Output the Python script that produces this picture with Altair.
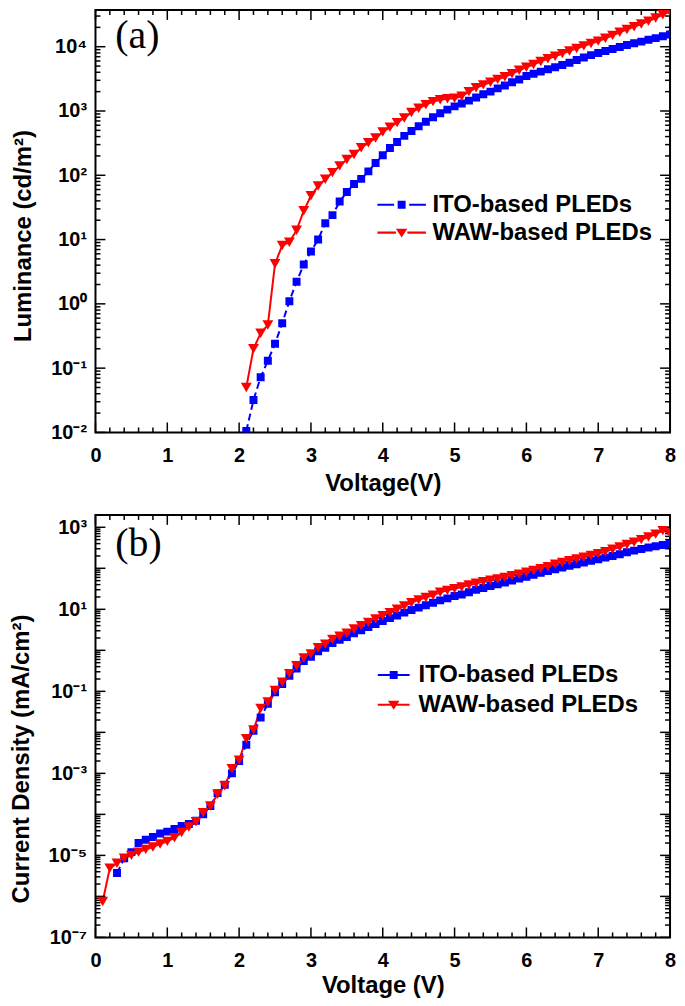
import json
import altair as alt
import pandas as pd

SERIES = ["ITO-based PLEDs", "WAW-based PLEDs"]
COLORS = ["#0000ff", "#ff0000"]
FONT = "Liberation Sans"
SERIF = "Liberation Serif"

# ---------------- (a) Luminance vs voltage ----------------
lum_voltage = [2.1, 2.2, 2.3, 2.4, 2.5, 2.6, 2.7, 2.8, 2.9, 3.0,
               3.1, 3.2, 3.3, 3.4, 3.5, 3.6, 3.7, 3.8, 3.9, 4.0,
               4.1, 4.2, 4.3, 4.4, 4.5, 4.6, 4.7, 4.8, 4.9, 5.0,
               5.1, 5.2, 5.3, 5.4, 5.5, 5.6, 5.7, 5.8, 5.9, 6.0,
               6.1, 6.2, 6.3, 6.4, 6.5, 6.6, 6.7, 6.8, 6.9, 7.0,
               7.1, 7.2, 7.3, 7.4, 7.5, 7.6, 7.7, 7.8, 7.9, 8.0]
lum_ito = [0.0105, 0.032, 0.072, 0.13, 0.24, 0.50, 1.1, 2.2, 4.1, 6.5,
           10, 18, 24, 39, 55, 73, 88, 115, 155, 205,
           265, 330, 410, 490, 580, 680, 800, 920, 1050, 1180,
           1310, 1450, 1620, 1820, 2000, 2250, 2500, 2800, 3100, 3500,
           3800, 4100, 4450, 4800, 5200, 5650, 6200, 6800, 7400, 8000,
           8600, 9200, 9900, 10600, 11300, 12000, 12800, 13600, 14500, 15500]
lum_waw = [0.05, 0.20, 0.35, 0.47, 4.2, 8.1, 9.1, 14, 28, 48,
           68, 87, 110, 140, 176, 210, 268, 320, 380, 470,
           560, 660, 780, 950, 1100, 1250, 1400, 1500, 1550, 1580,
           1700, 2000, 2300, 2550, 2800, 3100, 3400, 3800, 4300, 4800,
           5300, 5900, 6500, 7100, 7800, 8600, 9400, 10300, 11200, 12200,
           13500, 15000, 16800, 18500, 20500, 22500, 25000, 28000, 31500, 35000]

# ---------------- (b) Current density vs voltage ----------------
cd_voltage_waw = [0.1, 0.2, 0.3, 0.4, 0.5, 0.6, 0.7, 0.8, 0.9, 1.0,
                  1.1, 1.2, 1.3, 1.4, 1.5, 1.6, 1.7, 1.8, 1.9, 2.0,
                  2.1, 2.2, 2.3, 2.4, 2.5, 2.6, 2.7, 2.8, 2.9, 3.0,
                  3.1, 3.2, 3.3, 3.4, 3.5, 3.6, 3.7, 3.8, 3.9, 4.0,
                  4.1, 4.2, 4.3, 4.4, 4.5, 4.6, 4.7, 4.8, 4.9, 5.0,
                  5.1, 5.2, 5.3, 5.4, 5.5, 5.6, 5.7, 5.8, 5.9, 6.0,
                  6.1, 6.2, 6.3, 6.4, 6.5, 6.6, 6.7, 6.8, 6.9, 7.0,
                  7.1, 7.2, 7.3, 7.4, 7.5, 7.6, 7.7, 7.8, 7.9, 8.0]
cd_waw = [7.5e-7, 4.9e-6, 6.4e-6, 8.5e-6, 1.0e-5, 1.2e-5, 1.4e-5, 1.6e-5, 1.9e-5, 2.2e-5,
          2.7e-5, 3.6e-5, 4.9e-5, 6.6e-5, 1.1e-4, 1.6e-4, 3.1e-4, 5.0e-4, 1.3e-3, 2.1e-3,
          7.0e-3, 1.15e-2, 3.8e-2, 5.5e-2, 0.105, 0.166, 0.27, 0.42, 0.65, 0.82,
          1.15, 1.4, 1.85, 2.2, 2.6, 3.3, 4.0, 4.8, 5.8, 7.0,
          8.3, 10, 12, 14.5, 17, 19.5, 22, 26, 29, 32,
          35, 39, 43, 47, 51, 55, 60, 66, 72, 80,
          88, 98, 110, 125, 138, 152, 168, 185, 205, 228,
          255, 290, 330, 380, 430, 500, 580, 680, 830, 720]
cd_voltage_ito = [0.3, 0.4, 0.5, 0.6, 0.7, 0.8, 0.9, 1.0,
                  1.1, 1.2, 1.3, 1.4, 1.5, 1.6, 1.7, 1.8, 1.9, 2.0,
                  2.1, 2.2, 2.3, 2.4, 2.5, 2.6, 2.7, 2.8, 2.9, 3.0,
                  3.1, 3.2, 3.3, 3.4, 3.5, 3.6, 3.7, 3.8, 3.9, 4.0,
                  4.1, 4.2, 4.3, 4.4, 4.5, 4.6, 4.7, 4.8, 4.9, 5.0,
                  5.1, 5.2, 5.3, 5.4, 5.5, 5.6, 5.7, 5.8, 5.9, 6.0,
                  6.1, 6.2, 6.3, 6.4, 6.5, 6.6, 6.7, 6.8, 6.9, 7.0,
                  7.1, 7.2, 7.3, 7.4, 7.5, 7.6, 7.7, 7.8, 7.9, 8.0]
cd_ito = [3.7e-6, 8.5e-6, 1.2e-5, 2.0e-5, 2.4e-5, 2.8e-5, 3.4e-5, 3.8e-5,
          4.4e-5, 5.2e-5, 5.8e-5, 7.0e-5, 1.0e-4, 1.6e-4, 3.3e-4, 5.3e-4, 1.0e-3, 2.0e-3,
          5.0e-3, 1.1e-2, 2.3e-2, 5.0e-2, 9.5e-2, 0.15, 0.24, 0.36, 0.55, 0.70,
          0.95, 1.15, 1.5, 1.8, 2.1, 2.6, 3.1, 3.7, 4.4, 5.2,
          6.1, 7.1, 8.3, 9.6, 11, 12.5, 14.5, 16.5, 18.5, 21,
          23, 26, 30, 33, 37, 41, 45, 50, 56, 62,
          70, 78, 86, 95, 105, 115, 126, 138, 152, 166,
          182, 200, 220, 245, 270, 295, 320, 345, 370, 390]

# ---------------- tick values / labels ----------------
x_major = [0, 1, 2, 3, 4, 5, 6, 7, 8]
x_minor = [0.2, 0.4, 0.6, 0.8, 1.2, 1.4, 1.6, 1.8, 2.2, 2.4, 2.6, 2.8,
           3.2, 3.4, 3.6, 3.8, 4.2, 4.4, 4.6, 4.8, 5.2, 5.4, 5.6, 5.8,
           6.2, 6.4, 6.6, 6.8, 7.2, 7.4, 7.6, 7.8]
lum_tick_values = [1e-2, 1e-1, 1e0, 1e1, 1e2, 1e3, 1e4]
lum_tick_labels = ["10⁻²", "10⁻¹", "10⁰", "10¹", "10²", "10³", "10⁴"]
cd_tick_values = [1e-7, 1e-5, 1e-3, 1e-1, 1e1, 1e3]
cd_tick_labels = ["10⁻⁷", "10⁻⁵", "10⁻³", "10⁻¹", "10¹", "10³"]


def decades(e0, e1):
    return [float(10.0 ** e) for e in range(e0, e1 + 1)]


def minor_decades(e0, e1, vmax):
    out = []
    for e in range(e0, e1 + 1):
        for k in range(2, 10):
            v = float(k * 10.0 ** e)
            if v <= vmax:
                out.append(v)
    return out


def long_df(vs, ys, name):
    return pd.DataFrame({"V": vs, "val": ys, "series": name})


df_a = pd.concat([long_df(lum_voltage, lum_ito, SERIES[0]),
                  long_df(lum_voltage, lum_waw, SERIES[1])], ignore_index=True)
df_b = pd.concat([long_df(cd_voltage_ito, cd_ito, SERIES[0]),
                  long_df(cd_voltage_waw, cd_waw, SERIES[1])], ignore_index=True)


def label_expr(values, labels):
    return (json.dumps(labels, ensure_ascii=False)
            + "[indexof(" + json.dumps(values) + ", datum.value)]")


MAJOR_LEN, MINOR_LEN, TICK_W = 10, 5, 1.5


def x_ticks(xs, values, width, height, length):
    src = alt.Chart(pd.DataFrame({"t": values})).mark_rule(color="black", strokeWidth=TICK_W)
    xenc = alt.X("t:Q", scale=xs)
    bottom = src.encode(x=xenc, y=alt.value(height), y2=alt.value(height - length))
    top = src.encode(x=xenc, y=alt.value(0), y2=alt.value(length))
    return [bottom, top]


def y_ticks(ys, values, width, height, length):
    src = alt.Chart(pd.DataFrame({"t": values})).mark_rule(color="black", strokeWidth=TICK_W)
    yenc = alt.Y("t:Q", scale=ys)
    left = src.encode(y=yenc, x=alt.value(0), x2=alt.value(length))
    right = src.encode(y=yenc, x=alt.value(width), x2=alt.value(width - length))
    return [left, right]


def make_panel(df, width, height, ydom, y_major, y_minor, y_lab_vals, y_labs,
               y_title, y_title_y, x_title, x_title_pad, dash_range, sizes, legend_paths,
               legend_x, legend_y, sym_offset, lab_offset, row_pad, tag, tag_offset):
    xs = alt.Scale(domain=[0, 8], nice=False, zero=False)
    ys = alt.Scale(type="log", domain=ydom, nice=False)
    color_sc = alt.Scale(domain=SERIES, range=COLORS)
    base = alt.Chart(df)

    lab_x = alt.Axis(orient="bottom", values=x_major, ticks=False, domain=False,
                     grid=False, format="d", labelFont=FONT, labelFontSize=20,
                     labelFontWeight="bold", labelColor="black", labelPadding=13,
                     labelFlush=False, title=x_title, titleFont=FONT,
                     titleFontSize=24, titleFontWeight="bold", titleColor="black",
                     titlePadding=x_title_pad)
    lab_y = alt.Axis(orient="left", values=y_lab_vals, ticks=False, domain=False,
                     grid=False, labelExpr=label_expr(y_lab_vals, y_labs),
                     labelFont=FONT, labelFontSize=20, labelFontWeight="bold",
                     labelColor="black", labelPadding=9, labelFlush=False,
                     title=y_title, titleFont=FONT, titleFontSize=24,
                     titleFontWeight="bold", titleColor="black", titlePadding=15,
                     titleY=y_title_y)

    lines = base.mark_line(strokeWidth=2, clip=True).encode(
        x=alt.X("V:Q", scale=xs, axis=lab_x),
        y=alt.Y("val:Q", scale=ys, axis=lab_y),
        color=alt.Color("series:N", scale=color_sc, legend=None),
        strokeDash=alt.StrokeDash("series:N", scale=alt.Scale(domain=SERIES, range=dash_range),
                                  legend=None),
    )
    points = base.mark_point(filled=True, opacity=1, clip=True).encode(
        x=alt.X("V:Q", scale=xs),
        y=alt.Y("val:Q", scale=ys),
        color=alt.Color("series:N", scale=color_sc, legend=None),
        shape=alt.Shape("series:N", scale=alt.Scale(domain=SERIES, range=["square", "triangle-down"]),
                        legend=None),
        size=alt.Size("series:N", scale=alt.Scale(domain=SERIES, range=sizes), legend=None),
    )
    leg = alt.Legend(orient="none", legendX=legend_x, legendY=legend_y, title=None,
                     padding=0, labelFont=FONT, labelFontSize=24, labelFontWeight="bold",
                     labelColor="black", labelOffset=lab_offset, labelLimit=400,
                     symbolSize=256, symbolStrokeWidth=0, symbolOffset=sym_offset,
                     symbolOpacity=1, rowPadding=row_pad)
    legend_layer = base.transform_filter("false").mark_point(filled=True, opacity=1).encode(
        x=alt.X("V:Q", scale=xs),
        y=alt.Y("val:Q", scale=ys),
        color=alt.Color("series:N", scale=color_sc, legend=leg),
        shape=alt.Shape("series:N", scale=alt.Scale(domain=SERIES, range=legend_paths), legend=leg),
    )
    tick_layers = (x_ticks(xs, x_major, width, height, MAJOR_LEN)
                   + x_ticks(xs, x_minor, width, height, MINOR_LEN)
                   + y_ticks(ys, y_major, width, height, MAJOR_LEN)
                   + y_ticks(ys, y_minor, width, height, MINOR_LEN))
    return (
        alt.layer(lines, *tick_layers, points, legend_layer)
        .resolve_scale(color="independent", shape="independent")
        .properties(
            width=width, height=height,
            title=alt.TitleParams(tag, anchor="start", frame="group", offset=tag_offset,
                                  dx=20, font=SERIF, fontSize=40, fontWeight="normal",
                                  color="black"),
        )
    )


LEG_A = [
    "M-3.05,-0.13H-0.95V0.13H-3.05Z M-0.5,-0.5H0.5V0.5H-0.5Z M0.95,-0.13H3.05V0.13H0.95Z",
    "M-3.05,-0.13H-0.72V0.13H-3.05Z M-0.72,-0.5H0.72L0,0.62Z M0.72,-0.13H3.05V0.13H0.72Z",
]
LEG_B = [
    "M-2,-0.13H2V0.13H-2Z M-0.5,-0.5H0.5V0.5H-0.5Z",
    "M-2,-0.13H2V0.13H-2Z M-0.72,-0.5H0.72L0,0.62Z",
]

panel_a = make_panel(
    df_a, 578, 425, [0.01, 37300], decades(-2, 4), minor_decades(-2, 4, 37300),
    lum_tick_values, lum_tick_labels, "Luminance (cd/m²)", 227, "Voltage(V)", 6,
    [[7, 4], [1, 0]], [64, 120], LEG_A, 272, 184, 24, 19, 4, "(a)", -47,
)
panel_b = make_panel(
    df_b, 578, 425, [1e-7, 2000], decades(-7, 3), minor_decades(-7, 3, 2000),
    cd_tick_values, cd_tick_labels, "Current Density (mA/cm²)", 245, "Voltage (V)", 3,
    [[1, 0], [1, 0]], [72, 120], LEG_B, 272, 149, 16, 13, 6, "(b)", -50,
)

chart = (
    alt.vconcat(panel_a, panel_b, spacing=17)
    .properties(padding={"left": 0, "top": -3, "right": 0, "bottom": 0})
    .configure_view(stroke="black", strokeWidth=2)
)

chart.save("out.html", embed_options={"renderer": "svg", "actions": False})
